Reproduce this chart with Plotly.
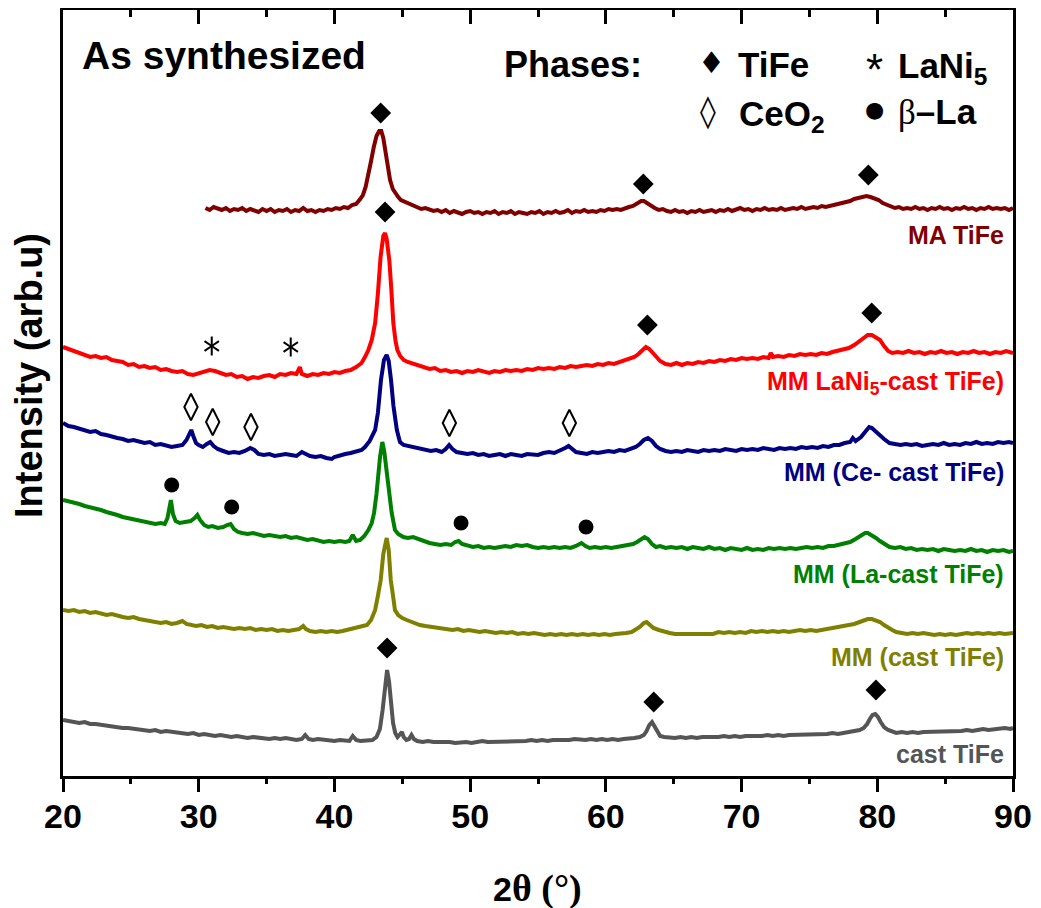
import plotly.graph_objects as go

# ---------------- data (2theta in degrees, stacked intensity in a.u.) ----------------
ma_tife = [(30.5,568),(30.8,566),(31.1,569),(31.4,567),(31.7,566),(32.0,568),(32.3,565),(32.6,567),(32.9,566),(33.2,568),
 (33.5,565),(33.8,567),(34.1,566),(34.4,564),(34.7,567),(35.0,565),(35.3,567),(35.6,564),(35.9,566),(36.2,565),
 (36.5,567),(36.8,564),(37.1,566),(37.4,565),(37.7,568),(38.0,565),(38.3,566),(38.6,564),(38.9,566),(39.2,565),
 (39.5,567),(39.8,566),(40.1,568),(40.4,567),(40.7,569),(41.0,568),(41.3,571),(41.6,572),(41.9,577),(42.1,581),
 (42.3,589),(42.5,600),(42.7,615),(42.9,629),(43.1,640),(43.3,645),(43.45,645),(43.6,638),(43.75,626),(43.9,611),
 (44.1,596),(44.3,587),(44.5,582),(44.7,579),(44.9,576),(45.2,574),(45.5,573),(45.8,570),(46.1,569),(46.4,567),
 (46.7,568),(47.0,566),(47.3,565),(47.6,566),(47.9,564),(48.2,566),(48.5,563),(48.8,565),(49.1,564),(49.4,562),
 (49.7,564),(50.0,565),(50.3,563),(50.6,564),(50.9,562),(51.2,564),(51.5,563),(51.8,565),(52.1,562),(52.4,564),
 (52.7,563),(53.0,565),(53.3,562),(53.6,564),(53.9,563),(54.2,562),(54.5,564),(54.8,563),(55.1,565),(55.4,562),
 (55.7,564),(56.0,563),(56.3,565),(56.6,563),(56.9,564),(57.2,566),(57.5,563),(57.8,565),(58.1,564),(58.4,566),
 (58.7,564),(59.0,565),(59.3,564),(59.6,566),(59.9,565),(60.2,567),(60.5,566),(60.8,567),(61.1,566),(61.4,568),
 (61.7,569),(62.0,570),(62.2,572),(62.4,573),(62.6,575),(62.8,575),(63.0,573),(63.2,572),(63.4,570),(63.6,568),
 (63.9,566),(64.2,567),(64.5,565),(64.8,564),(65.1,566),(65.4,564),(65.7,565),(66.0,563),(66.3,565),(66.6,564),
 (66.9,566),(67.2,564),(67.5,565),(67.8,566),(68.1,564),(68.4,566),(68.7,565),(69.0,567),(69.3,565),(69.6,566),
 (69.9,568),(70.2,566),(70.5,567),(70.8,565),(71.1,567),(71.4,566),(71.7,568),(72.0,566),(72.3,567),(72.6,566),
 (72.9,568),(73.2,566),(73.5,567),(73.8,568),(74.1,567),(74.4,569),(74.7,567),(75.0,568),(75.3,569),(75.6,568),
 (75.9,570),(76.2,569),(76.5,570),(76.8,571),(77.1,571),(77.4,573),(77.7,574),(78.0,575),(78.3,577),(78.6,578),
 (78.9,580),(79.2,580),(79.5,579),(79.8,578),(80.1,576),(80.4,573),(80.7,571),(81.0,569),(81.3,568),(81.6,569),
 (81.9,567),(82.2,568),(82.5,567),(82.8,569),(83.1,567),(83.4,568),(83.7,566),(84.0,568),(84.3,567),(84.6,569),
 (84.9,567),(85.2,568),(85.5,566),(85.8,568),(86.1,567),(86.4,569),(86.7,567),(87.0,568),(87.3,566),(87.6,568),
 (87.9,567),(88.2,569),(88.5,567),(88.8,568),(89.1,567),(89.4,568),(89.7,566),(90.0,568)]

mm_lani5 = [(20.0,429),(20.4,427),(20.8,425),(21.2,423),(21.6,422),(22.0,419),(22.4,420),(22.8,418),(23.2,419),(23.6,416),
 (24.0,415),(24.4,414),(24.8,411),(25.2,412),(25.6,409),(26.0,410),(26.4,408),(26.8,409),(27.2,406),(27.6,407),
 (28.0,405),(28.4,404),(28.8,405),(29.2,402),(29.6,401),(30.0,403),(30.4,404),(30.8,406),(31.2,405),(31.6,403),
 (32.0,401),(32.4,402),(32.8,399),(33.2,400),(33.6,397),(34.0,399),(34.4,398),(34.8,400),(35.2,401),(35.6,399),
 (36.0,402),(36.4,401),(36.8,403),(37.2,402),(37.45,409),(37.6,402),(38.0,400),(38.4,402),(38.8,401),(39.2,403),
 (39.6,402),(40.0,404),(40.4,403),(40.8,405),(41.2,406),(41.6,409),(42.0,413),(42.25,419),(42.5,426),(42.75,436),
 (43.0,453),(43.2,482),(43.4,519),(43.6,540),(43.73,543),(43.85,537),(44.05,515),(44.2,485),(44.34,453),(44.5,435),
 (44.64,426),(44.85,420),(45.1,416),(45.4,414),(45.8,412),(46.2,410),(46.6,408),(47.0,407),(47.4,408),(47.8,405),
 (48.2,406),(48.6,404),(49.0,405),(49.4,403),(49.8,405),(50.2,404),(50.6,406),(51.0,404),(51.4,403),(51.8,405),
 (52.2,404),(52.6,406),(53.0,405),(53.4,406),(53.8,405),(54.2,407),(54.6,406),(55.0,408),(55.4,407),(55.8,408),
 (56.2,407),(56.6,409),(57.0,408),(57.4,410),(57.8,409),(58.2,410),(58.6,411),(59.0,410),(59.4,412),(59.8,411),
 (60.2,413),(60.6,412),(61.0,414),(61.4,415),(61.8,417),(62.1,419),(62.4,422),(62.7,426),(62.95,429),(63.2,427),
 (63.45,423),(63.7,419),(64.0,415),(64.4,412),(64.8,411),(65.2,413),(65.6,411),(66.0,413),(66.4,412),(66.8,414),
 (67.2,413),(67.6,415),(68.0,414),(68.4,416),(68.8,415),(69.2,417),(69.6,416),(70.0,418),(70.4,417),(70.8,418),
 (71.2,417),(71.6,419),(72.0,418),(72.15,423),(72.3,419),(72.7,420),(73.1,419),(73.5,421),(73.9,420),(74.3,422),
 (74.7,421),(75.1,422),(75.5,421),(75.9,423),(76.3,422),(76.7,424),(77.1,425),(77.5,426),(77.9,428),(78.3,431),
 (78.7,435),(79.0,439),(79.3,441),(79.6,441),(79.9,439),(80.2,436),(80.5,430),(80.8,425),(81.1,423),(81.5,424),
 (81.9,423),(82.3,425),(82.7,423),(83.1,424),(83.5,422),(83.9,424),(84.3,423),(84.7,425),(85.1,423),(85.5,424),
 (85.9,422),(86.3,424),(86.7,423),(87.1,425),(87.5,423),(87.9,424),(88.3,422),(88.7,424),(89.1,423),(89.5,425),
 (90.0,423)]

mm_ce = [(20.0,353),(20.4,350),(20.8,349),(21.2,347),(21.6,346),(22.0,344),(22.4,345),(22.8,342),(23.2,341),(23.6,339),
 (24.0,338),(24.4,337),(24.8,335),(25.2,336),(25.6,334),(26.0,333),(26.4,334),(26.8,331),(27.2,332),(27.6,330),
 (28.0,329),(28.4,330),(28.8,331),(29.1,336),(29.3,343),(29.45,346),(29.6,340),(29.8,333),(30.0,331),(30.3,329),
 (30.6,332),(30.85,334),(31.1,330),(31.4,327),(31.8,325),(32.2,323),(32.6,324),(33.0,323),(33.4,325),(33.8,328),
 (34.1,326),(34.4,322),(34.8,321),(35.2,322),(35.6,320),(36.0,321),(36.4,322),(36.8,321),(37.2,320),(37.6,324),
 (37.9,322),(38.2,320),(38.6,319),(39.0,320),(39.4,318),(39.8,317),(40.0,319),(40.4,321),(40.8,322),(41.2,323),
 (41.6,324),(42.0,326),(42.25,329),(42.6,335),(43.0,346),(43.2,363),(43.43,396),(43.65,416),(43.85,421),(44.0,415),
 (44.17,396),(44.35,370),(44.6,346),(44.83,334),(45.1,331),(45.5,330),(45.9,328),(46.3,327),(46.7,326),(47.1,325),
 (47.5,326),(47.9,324),(48.2,327),(48.45,331),(48.7,327),(49.0,324),(49.4,323),(49.8,322),(50.2,323),(50.6,321),
 (51.0,322),(51.4,320),(51.8,321),(52.2,322),(52.6,320),(53.0,322),(53.4,321),(53.8,320),(54.2,322),(54.6,321),
 (55.0,321),(55.4,323),(55.8,324),(56.2,323),(56.6,325),(57.0,328),(57.25,330),(57.5,327),(57.8,324),(58.2,323),
 (58.6,322),(59.0,324),(59.4,323),(59.8,324),(60.2,325),(60.6,324),(61.0,326),(61.4,325),(61.8,327),(62.2,329),
 (62.5,332),(62.8,336),(63.1,338),(63.4,335),(63.7,330),(64.0,327),(64.4,325),(64.8,324),(65.2,325),(65.6,324),
 (66.0,326),(66.4,325),(66.8,324),(67.2,326),(67.6,325),(68.0,326),(68.4,325),(68.8,327),(69.2,326),(69.6,325),
 (70.0,327),(70.4,326),(70.8,327),(71.2,326),(71.6,328),(72.0,327),(72.4,326),(72.8,328),(73.2,327),(73.6,328),
 (74.0,327),(74.4,329),(74.8,328),(75.2,329),(75.6,328),(76.0,330),(76.4,329),(76.8,331),(77.2,331),(77.6,333),
 (78.0,334),(78.2,338),(78.4,335),(78.8,339),(79.1,344),(79.4,349),(79.6,348),(79.9,344),(80.2,341),(80.5,337),
 (80.9,333),(81.3,332),(81.7,331),(82.1,332),(82.5,331),(82.9,332),(83.3,330),(83.7,331),(84.1,332),(84.5,331),
 (84.9,333),(85.3,331),(85.7,332),(86.1,331),(86.5,333),(86.9,332),(87.3,334),(87.7,332),(88.1,333),(88.5,332),
 (88.9,334),(89.3,333),(89.7,334),(90.0,333)]

mm_la = [(20.0,276),(20.4,275),(20.8,273),(21.2,272),(21.6,270),(22.0,269),(22.4,267),(22.8,266),(23.2,264),(23.6,263),
 (24.0,261),(24.4,259),(24.8,258),(25.2,257),(25.6,255),(26.0,254),(26.4,253),(26.8,252),(27.2,253),(27.5,252),
 (27.7,258),(27.85,273),(27.95,276),(28.1,262),(28.3,255),(28.6,253),(29.0,254),(29.4,255),(29.7,258),(29.9,261),
 (30.1,256),(30.4,251),(30.7,249),(31.0,250),(31.4,248),(31.8,249),(32.1,251),(32.35,252),(32.6,247),(32.9,244),
 (33.2,243),(33.6,242),(34.0,243),(34.4,241),(34.8,240),(35.2,241),(35.6,240),(36.0,239),(36.4,240),(36.8,238),
 (37.2,239),(37.6,237),(38.0,236),(38.4,237),(38.8,235),(39.2,234),(39.6,235),(40.0,234),(40.4,235),(40.8,234),
 (41.1,235),(41.35,241),(41.6,235),(41.9,236),(42.2,240),(42.5,246),(42.75,253),(42.92,263),(43.1,282),(43.24,303),
 (43.36,319),(43.53,334),(43.68,324),(43.8,310),(43.95,292),(44.1,273),(44.22,263),(44.46,246),(44.7,242),(45.08,239),
 (45.4,238),(45.8,239),(46.2,237),(46.6,234),(47.0,233),(47.4,232),(47.8,231),(48.2,232),(48.6,231),(48.9,234),
 (49.15,235),(49.4,232),(49.8,230),(50.2,229),(50.6,230),(51.0,228),(51.4,229),(51.8,228),(52.2,229),(52.6,230),
 (53.0,229),(53.4,231),(53.8,230),(54.2,231),(54.6,229),(55.0,228),(55.4,229),(55.8,228),(56.2,229),(56.6,228),
 (57.0,229),(57.4,228),(57.8,230),(58.2,233),(58.5,230),(58.8,228),(59.2,229),(59.6,228),(60.0,229),(60.4,228),
 (60.8,229),(61.2,230),(61.6,230),(62.0,232),(62.3,234),(62.6,237),(62.85,239),(63.1,237),(63.4,232),(63.7,229),
 (64.0,230),(64.4,228),(64.8,229),(65.2,228),(65.6,229),(66.0,227),(66.4,229),(66.8,228),(67.2,227),(67.6,229),
 (68.0,227),(68.4,228),(68.8,226),(69.2,228),(69.6,227),(70.0,226),(70.4,228),(70.8,226),(71.2,227),(71.6,226),
 (72.0,228),(72.4,227),(72.8,228),(73.2,227),(73.6,228),(74.0,227),(74.4,228),(74.8,229),(75.2,228),(75.6,229),
 (76.0,228),(76.4,230),(76.8,230),(77.2,231),(77.6,233),(78.0,234),(78.4,237),(78.8,240),(79.1,243),(79.3,243),
 (79.6,241),(79.9,238),(80.2,235),(80.5,232),(80.9,229),(81.3,228),(81.7,229),(82.1,227),(82.5,228),(82.9,226),
 (83.3,227),(83.7,226),(84.1,227),(84.5,225),(84.9,227),(85.3,226),(85.7,225),(86.1,226),(86.5,225),(86.9,227),
 (87.3,225),(87.7,226),(88.1,224),(88.5,226),(88.9,225),(89.3,226),(89.7,224),(90.0,225)]

mm_cast = [(20.0,166),(20.4,165),(20.8,166),(21.2,164),(21.6,165),(22.0,163),(22.4,164),(22.8,162),(23.2,161),(23.6,162),
 (24.0,160),(24.4,159),(24.8,158),(25.2,159),(25.6,157),(26.0,156),(26.4,155),(26.8,154),(27.2,153),(27.6,154),
 (28.0,152),(28.4,153),(28.8,155),(29.1,152),(29.4,151),(29.8,150),(30.2,151),(30.6,149),(31.0,150),(31.4,148),
 (31.8,149),(32.2,148),(32.6,147),(33.0,148),(33.4,147),(33.8,148),(34.2,146),(34.6,147),(35.0,146),(35.4,147),
 (35.8,145),(36.2,146),(36.6,145),(37.0,146),(37.4,147),(37.7,150),(37.9,147),(38.2,145),(38.6,144),(39.0,145),
 (39.4,144),(39.8,145),(40.2,144),(40.6,145),(41.0,146),(41.4,148),(41.8,149),(42.1,150),(42.4,151),(42.7,156),
 (43.0,166),(43.2,180),(43.41,196),(43.6,222),(43.85,238),(44.0,226),(44.15,196),(44.3,182),(44.46,166),(44.7,161),
 (45.0,158),(45.33,156),(45.7,154),(46.0,152),(46.3,151),(46.7,150),(47.1,149),(47.5,148),(47.9,148),(48.3,147),
 (48.7,146),(49.1,147),(49.5,145),(49.9,146),(50.3,145),(50.7,144),(51.1,145),(51.5,144),(51.9,143),(52.3,144),
 (52.7,143),(53.1,144),(53.5,142),(53.9,143),(54.3,142),(54.7,143),(55.1,142),(55.5,141),(55.9,142),(56.3,141),
 (56.7,142),(57.1,141),(57.5,142),(57.9,141),(58.3,142),(58.7,141),(59.1,142),(59.5,141),(59.9,142),(60.3,141),
 (60.7,142),(61.1,142),(61.5,143),(61.9,144),(62.2,146),(62.5,149),(62.8,153),(63.0,154),(63.25,151),(63.5,148),
 (63.9,146),(64.3,144),(64.7,143),(65.1,142),(65.5,142),(65.9,143),(66.3,142),(66.7,143),(67.1,142),(67.5,143),
 (67.9,142),(68.3,144),(68.7,143),(69.1,144),(69.5,143),(69.9,144),(70.3,143),(70.7,145),(71.1,144),(71.5,145),
 (71.9,144),(72.3,145),(72.7,144),(73.1,145),(73.5,144),(73.9,145),(74.3,146),(74.7,145),(75.1,146),(75.5,145),
 (75.9,146),(76.3,147),(76.7,147),(77.1,148),(77.5,149),(77.9,150),(78.3,152),(78.7,154),(79.0,156),(79.3,157),
 (79.6,157),(79.9,156),(80.2,154),(80.5,151),(80.8,148),(81.1,146),(81.4,144),(81.8,143),(82.2,142),(82.6,143),
 (83.0,142),(83.4,143),(83.8,142),(84.2,141),(84.6,142),(85.0,141),(85.4,142),(85.8,141),(86.2,142),(86.6,143),
 (87.0,142),(87.4,143),(87.8,142),(88.2,143),(88.6,142),(89.0,143),(89.4,142),(89.8,143),(90.0,143)]

cast_tife = [(20.0,56),(20.4,55),(20.8,55),(21.2,53),(21.6,54),(22.0,52),(22.4,52),(22.8,51),(23.2,50),(23.6,50),
 (24.0,49),(24.4,48),(24.8,48),(25.2,47),(25.6,47),(26.0,46),(26.4,45),(26.8,46),(27.2,44),(27.6,45),
 (28.0,44),(28.4,43),(28.8,43),(29.2,42),(29.6,43),(30.0,41),(30.4,42),(30.8,41),(31.2,40),(31.6,41),
 (32.0,40),(32.4,39),(32.8,40),(33.2,39),(33.6,38),(34.0,39),(34.4,38),(34.8,38),(35.2,37),(35.6,38),
 (36.0,37),(36.4,38),(36.8,37),(37.2,36),(37.6,37),(37.85,41),(38.1,37),(38.4,36),(38.8,37),(39.2,36),
 (39.6,36),(40.0,35),(40.4,36),(40.8,36),(41.1,35),(41.35,40),(41.6,36),(41.9,35),(42.2,35),(42.5,36),
 (42.8,36),(43.1,39),(43.35,47),(43.55,66),(43.72,92),(43.88,106),(44.02,95),(44.18,70),(44.32,53),(44.48,43),
 (44.65,39),(44.85,42),(44.97,44),(45.1,39),(45.3,36),(45.5,37),(45.68,41),(45.85,37),(46.1,35),(46.5,34),
 (46.9,35),(47.3,34),(47.7,34),(48.1,35),(48.5,34),(48.9,33),(49.3,34),(49.7,34),(50.1,33),(50.5,34),
 (50.9,35),(51.3,34),(51.7,34),(52.1,35),(52.5,34),(52.9,35),(53.3,34),(53.7,35),(54.1,35),(54.5,36),
 (54.9,35),(55.3,36),(55.7,35),(56.1,36),(56.5,36),(56.9,35),(57.3,36),(57.7,37),(58.1,36),(58.5,36),
 (58.9,37),(59.3,36),(59.7,37),(60.1,36),(60.5,37),(60.9,36),(61.3,37),(61.7,37),(62.1,38),(62.5,39),
 (62.8,41),(63.0,45),(63.2,51),(63.4,54),(63.6,49),(63.8,43),(64.0,40),(64.3,39),(64.7,38),(65.1,38),
 (65.5,39),(65.9,38),(66.3,39),(66.7,38),(67.1,39),(67.5,39),(67.9,38),(68.3,39),(68.7,40),(69.1,39),
 (69.5,40),(69.9,39),(70.3,40),(70.7,40),(71.1,39),(71.5,40),(71.9,41),(72.3,40),(72.7,41),(73.1,40),
 (73.5,41),(73.9,41),(74.3,42),(74.7,41),(75.1,42),(75.5,41),(75.9,42),(76.3,42),(76.7,43),(77.1,42),
 (77.5,43),(77.9,44),(78.3,44),(78.7,46),(79.0,48),(79.25,52),(79.45,57),(79.65,61),(79.85,62),(80.05,59),
 (80.25,54),(80.5,49),(80.8,46),(81.1,44),(81.4,43),(81.8,44),(82.2,43),(82.6,44),(83.0,43),(83.4,44),
 (83.8,44),(84.2,45),(84.6,44),(85.0,45),(85.4,44),(85.8,45),(86.2,45),(86.6,46),(87.0,45),(87.4,46),
 (87.8,47),(88.2,46),(88.6,47),(89.0,47),(89.4,48),(89.8,47),(90.0,48)]

series_names = ["MA TiFe", "MM LaNi<sub>5</sub>-cast TiFe)", "MM (Ce- cast TiFe)",
                "MM (La-cast TiFe)", "MM (cast TiFe)", "cast TiFe"]
series_data = [ma_tife, mm_lani5, mm_ce, mm_la, mm_cast, cast_tife]
series_colors = ["#800000", "#ff0000", "#000080", "#008000", "#808000", "#555555"]

# phase markers (2theta, stacked intensity)
tife_x = [43.41, 62.76, 79.34, 43.73, 63.06, 79.59, 43.88, 63.53, 79.90]
tife_y = [663, 592, 601, 564, 451, 463, 128, 74, 86]
ceo2_x = [29.43, 31.03, 33.85, 48.47, 57.31]
ceo2_y = [369, 354, 349, 353, 353]
betala_x = [28.01, 32.43, 49.33, 58.54]
betala_y = [291, 269, 253, 249]
lani5_x = [30.96, 36.78]
lani5_y = [430, 429]

x_ticks = [20, 30, 40, 50, 60, 70, 80, 90]

# ---------------- figure ----------------
# the page body has an 8px margin; size the figure so the plot lands where intended
OFF = 8
PL, PT, PR, PB = 63, 10, 1013, 776          # plot box in window pixels
W, H = 1041 - OFF, 908 - OFF
L, T = PL - OFF, PT - OFF
R = W - (PR - OFF)
B = H - (PB - OFF)
SANS = "Liberation Sans, Arial, sans-serif"

def px(xp):
    return (xp - PL) / (PR - PL)

def py(yp):
    return (PB - yp) / (PB - PT)

fig = go.Figure()
for pts, col in zip(series_data, series_colors):
    fig.add_trace(go.Scatter(x=[p[0] for p in pts], y=[p[1] for p in pts], mode="lines",
                             line=dict(color=col, width=4), showlegend=False, hoverinfo="skip"))

fig.add_trace(go.Scatter(x=tife_x, y=tife_y, mode="markers", xaxis="x2",
                         marker=dict(symbol="diamond", size=16, color="black", line=dict(width=0)),
                         showlegend=False, hoverinfo="skip"))
fig.add_trace(go.Scatter(x=ceo2_x, y=ceo2_y, mode="markers", xaxis="x2",
                         marker=dict(symbol="diamond-tall-open", size=19, color="black",
                                     line=dict(color="black", width=2)),
                         showlegend=False, hoverinfo="skip"))
fig.add_trace(go.Scatter(x=betala_x, y=betala_y, mode="markers", xaxis="x2",
                         marker=dict(symbol="circle", size=15, color="black", line=dict(width=0)),
                         showlegend=False, hoverinfo="skip"))
for sym in ["y-up-open", "y-down-open"]:
    fig.add_trace(go.Scatter(x=lani5_x, y=lani5_y, mode="markers", xaxis="x2",
                             marker=dict(symbol=sym, size=12, color="black",
                                         line=dict(color="black", width=2)),
                             showlegend=False, hoverinfo="skip"))

ann = []
def add_text(text, xp, yp, size, color="black", xanchor="left", family=SANS, bold=True, angle=0):
    ann.append(dict(text=text, x=px(xp), y=py(yp), xref="paper", yref="paper",
                    xanchor=xanchor, yanchor="middle", showarrow=False, textangle=angle,
                    font=dict(family=family, size=size, color=color,
                              weight="bold" if bold else "normal")))

# series labels
label_y = [235, 383, 472, 574, 657, 754]
for name, col, yl in zip(series_names, series_colors, label_y):
    add_text(name, 1006, yl, 25, color=col, xanchor="right")

# header texts
add_text("As synthesized", 80, 56, 39)
add_text("Phases:", 502, 64, 36)
add_text("♦", 711, 63, 30, xanchor="center", family="DejaVu Sans", bold=False)
add_text("TiFe", 736, 64, 35)
add_text("*", 874, 70, 44, xanchor="center", family=SANS, bold=False)
add_text("LaNi<sub>5</sub>", 896, 68, 35)
add_text("◊", 708, 111, 32, xanchor="center", family="DejaVu Sans", bold=False)
add_text("CeO<sub>2</sub>", 737, 116, 35)
add_text("●", 874, 110, 22, xanchor="center", family="DejaVu Sans", bold=False)
add_text("<span style='font-family:Liberation Serif;font-weight:normal'>β</span>–La", 896, 112, 35)

# axis titles
add_text("2<span style='font-family:Liberation Serif;font-size:38px'>θ (°)</span>", 537, 888, 34,
         xanchor="center")
add_text("Intensity (arb.u)", 29, 376, 38, xanchor="center", angle=-90)

fig.update_layout(
    width=W, height=H,
    margin=dict(l=L, r=R, t=T, b=B, pad=0),
    paper_bgcolor="white", plot_bgcolor="white",
    showlegend=False,
    annotations=ann,
    xaxis=dict(range=[20, 90], tickvals=x_ticks, ticks="outside", ticklen=13, tickwidth=3,
               tickcolor="black", showline=True, linewidth=3, linecolor="black",
               showgrid=False, zeroline=False, ticklabelstandoff=-5,
               tickfont=dict(family=SANS, size=34, color="black", weight="bold"),
               minor=dict(ticks="outside", ticklen=5, tickwidth=3, tickcolor="black",
                          dtick=5, tick0=20, showgrid=False)),
    xaxis2=dict(range=[20, 90], overlaying="x", side="top", anchor="y",
                tickvals=x_ticks, ticks="inside", ticklen=14, tickwidth=3, tickcolor="black",
                showticklabels=False, showline=True, linewidth=3, linecolor="black",
                showgrid=False, zeroline=False,
                minor=dict(ticks="inside", ticklen=7, tickwidth=3, tickcolor="black",
                           dtick=5, tick0=20, showgrid=False)),
    yaxis=dict(range=[0, PB - PT], showline=True, linewidth=3, linecolor="black", mirror=True,
               ticks="", showticklabels=False, showgrid=False, zeroline=False),
)

fig.write_html("out.html")
